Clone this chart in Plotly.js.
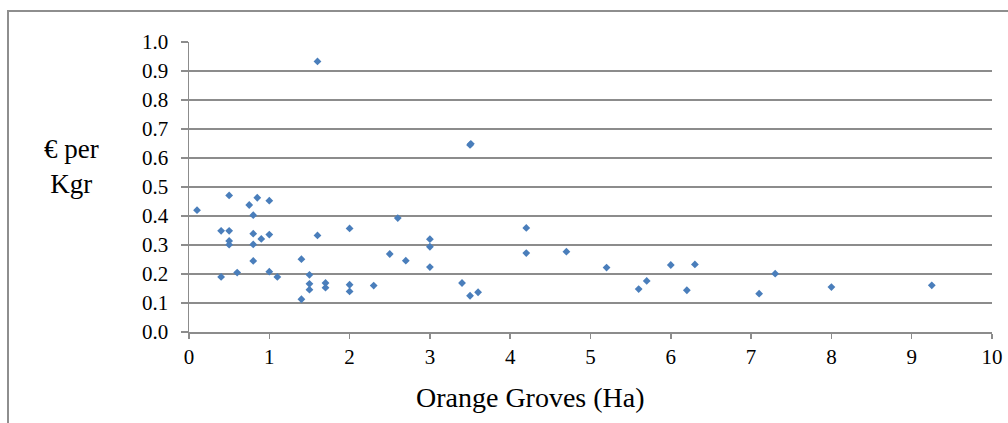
<!DOCTYPE html>
<html>
<head>
<meta charset="utf-8">
<script src="https://cdn.plot.ly/plotly-3.0.1.min.js"></script>
<style>
  html, body { margin: 0; padding: 0; background: #fff; }
  #wrap { position: relative; width: 1008px; height: 423px; overflow: hidden; }
  #frame { position: absolute; left: 7px; top: 10px; width: 1100px; height: 500px;
           border-left: 2px solid #8e8e8e; border-top: 2px solid #8e8e8e; box-sizing: border-box; }
  #chart { position: absolute; left: 0; top: 0; width: 1008px; height: 423px; }
</style>
</head>
<body>
<div id="wrap">
  <div id="frame"></div>
  <div id="chart"></div>
</div>
<script>
// Orange grove size (Ha)
const groveHa = [
  0.1, 0.4, 0.4, 0.5, 0.5, 0.5, 0.5, 0.6, 0.75, 0.8, 0.8, 0.8, 0.8, 0.85, 0.9,
  1.0, 1.0, 1.0, 1.1, 1.4, 1.4, 1.5, 1.5, 1.5, 1.6, 1.6, 1.7, 1.7,
  2.0, 2.0, 2.0, 2.3, 2.5, 2.6, 2.7, 3.0, 3.0, 3.0, 3.4, 3.5, 3.51, 3.5, 3.6,
  4.2, 4.2, 4.7, 5.2, 5.6, 5.7, 6.0, 6.2, 6.3, 7.1, 7.3, 8.0, 9.25
];
// Cost in euro per Kgr
const euroPerKgr = [
  0.42, 0.349, 0.19, 0.471, 0.349, 0.314, 0.301, 0.205, 0.438, 0.403, 0.339, 0.302, 0.245, 0.463, 0.321,
  0.453, 0.336, 0.208, 0.19, 0.251, 0.113, 0.197, 0.166, 0.146, 0.933, 0.333, 0.169, 0.153,
  0.357, 0.163, 0.14, 0.16, 0.269, 0.393, 0.246, 0.32, 0.294, 0.224, 0.169, 0.645, 0.649, 0.125, 0.137,
  0.359, 0.272, 0.277, 0.222, 0.148, 0.176, 0.231, 0.144, 0.233, 0.132, 0.201, 0.155, 0.161
];
const xTicks = [0, 1, 2, 3, 4, 5, 6, 7, 8, 9, 10];
const yTicks = [0, 0.1, 0.2, 0.3, 0.4, 0.5, 0.6, 0.7, 0.8, 0.9, 1.0];
const yTickText = yTicks.map(v => v.toFixed(1));

const serif = "Liberation Serif";
const gray = "#8c8c8c";

const trace = {
  type: "scatter",
  mode: "markers",
  x: groveHa,
  y: euroPerKgr,
  marker: { symbol: "diamond", size: 6, color: "#4a7ebb", line: { width: 0 } },
  hoverinfo: "x+y"
};

const layout = {
  width: 1008,
  height: 423,
  margin: { l: 189, r: 16, t: 42, b: 91 },
  paper_bgcolor: "rgba(0,0,0,0)",
  plot_bgcolor: "rgba(0,0,0,0)",
  showlegend: false,
  font: { family: serif, size: 21, color: "#000" },
  xaxis: {
    range: [0, 10],
    tickvals: xTicks,
    ticktext: xTicks.map(String),
    ticks: "outside",
    ticklen: 5,
    tickwidth: 1.5,
    tickcolor: gray,
    showline: true,
    linecolor: gray,
    linewidth: 1.5,
    showgrid: false,
    zeroline: false,
    tickfont: { family: serif, size: 21, color: "#000" },
    fixedrange: true
  },
  yaxis: {
    range: [0, 1.0],
    tickvals: yTicks,
    ticktext: yTickText,
    ticks: "outside",
    ticklen: 7,
    tickwidth: 1.5,
    tickcolor: gray,
    showline: true,
    linecolor: gray,
    linewidth: 1.5,
    showgrid: true,
    gridcolor: gray,
    gridwidth: 1.5,
    zeroline: false,
    ticklabelstandoff: 8,
    tickfont: { family: serif, size: 21, color: "#000" },
    fixedrange: true
  },
  annotations: [
    {
      text: "€ per<br>Kgr",
      xref: "paper", yref: "paper",
      x: -0.146, y: 0.572,
      xanchor: "center", yanchor: "middle",
      showarrow: false,
      align: "center",
      font: { family: serif, size: 27, color: "#000" }
    },
    {
      text: "Orange Groves (Ha)",
      xref: "paper", yref: "paper",
      x: 0.425, y: -0.225,
      xanchor: "center", yanchor: "middle",
      showarrow: false,
      font: { family: serif, size: 28, color: "#000" }
    }
  ]
};

Plotly.newPlot("chart", [trace], layout, { displayModeBar: false, staticPlot: true });
</script>
</body>
</html>
